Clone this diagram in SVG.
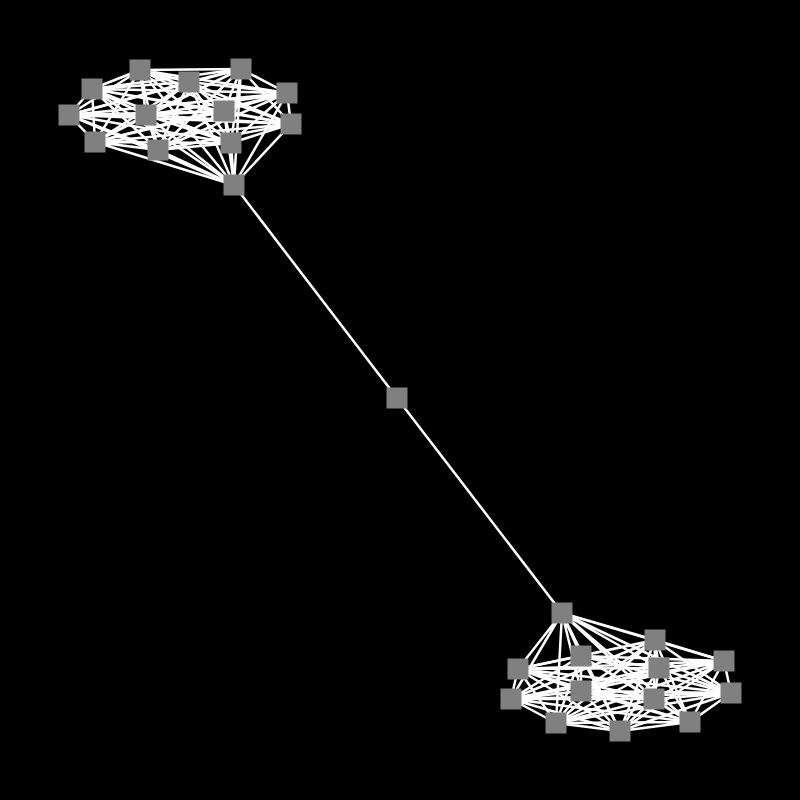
<svg xmlns="http://www.w3.org/2000/svg" width="800" height="800" viewBox="0 0 800 800">
<style>
.e{stroke:#fff;stroke-width:2.5;fill:none}
.n rect{fill:#808080}
</style>
<rect width="800" height="800" fill="#000"/>
<g id="connectors" class="e">
<path d="M140 70L189 82M140 70L241 69M140 70L92 89M140 70L287 93M140 70L69 115M140 70L146 115M140 70L224 111M140 70L291 124M140 70L95 142M140 70L158 150M140 70L231 143M140 70L234 185"/>
<path d="M189 82L241 69M189 82L92 89M189 82L287 93M189 82L69 115M189 82L146 115M189 82L224 111M189 82L291 124M189 82L95 142M189 82L158 150M189 82L231 143M189 82L234 185"/>
<path d="M241 69L92 89M241 69L287 93M241 69L69 115M241 69L146 115M241 69L224 111M241 69L291 124M241 69L95 142M241 69L158 150M241 69L231 143M241 69L234 185"/>
<path d="M92 89L287 93M92 89L69 115M92 89L146 115M92 89L224 111M92 89L291 124M92 89L95 142M92 89L158 150M92 89L231 143M92 89L234 185"/>
<path d="M287 93L69 115M287 93L146 115M287 93L224 111M287 93L291 124M287 93L95 142M287 93L158 150M287 93L231 143M287 93L234 185"/>
<path d="M69 115L146 115M69 115L224 111M69 115L291 124M69 115L95 142M69 115L158 150M69 115L231 143M69 115L234 185"/>
<path d="M146 115L224 111M146 115L291 124M146 115L95 142M146 115L158 150M146 115L231 143M146 115L234 185"/>
<path d="M224 111L291 124M224 111L95 142M224 111L158 150M224 111L231 143M224 111L234 185"/>
<path d="M291 124L95 142M291 124L158 150M291 124L231 143M291 124L234 185"/>
<path d="M95 142L158 150M95 142L231 143M95 142L234 185"/>
<path d="M158 150L231 143M158 150L234 185M231 143L234 185"/>
<path d="M234 185L397 398M397 398L562 613"/>
<path d="M562 613L655 640M562 613L581 656M562 613L518 669M562 613L659 668M562 613L724 661M562 613L511 699M562 613L581 691M562 613L654 699M562 613L731 693M562 613L556 723M562 613L620 731M562 613L690 722"/>
<path d="M655 640L581 656M655 640L518 669M655 640L659 668M655 640L724 661M655 640L511 699M655 640L581 691M655 640L654 699M655 640L731 693M655 640L556 723M655 640L620 731M655 640L690 722"/>
<path d="M581 656L518 669M581 656L659 668M581 656L724 661M581 656L511 699M581 656L581 691M581 656L654 699M581 656L731 693M581 656L556 723M581 656L620 731M581 656L690 722"/>
<path d="M518 669L659 668M518 669L724 661M518 669L511 699M518 669L581 691M518 669L654 699M518 669L731 693M518 669L556 723M518 669L620 731M518 669L690 722"/>
<path d="M659 668L724 661M659 668L511 699M659 668L581 691M659 668L654 699M659 668L731 693M659 668L556 723M659 668L620 731M659 668L690 722"/>
<path d="M724 661L511 699M724 661L581 691M724 661L654 699M724 661L731 693M724 661L556 723M724 661L620 731M724 661L690 722"/>
<path d="M511 699L581 691M511 699L654 699M511 699L731 693M511 699L556 723M511 699L620 731M511 699L690 722"/>
<path d="M581 691L654 699M581 691L731 693M581 691L556 723M581 691L620 731M581 691L690 722"/>
<path d="M654 699L731 693M654 699L556 723M654 699L620 731M654 699L690 722"/>
<path d="M731 693L556 723M731 693L620 731M731 693L690 722"/>
<path d="M556 723L620 731M556 723L690 722M620 731L690 722"/>
</g>
<g class="n">
<g id="t0"><rect x="129.5" y="59.5" width="21" height="21"/></g>
<g id="t1"><rect x="178.5" y="71.5" width="21" height="21"/></g>
<g id="t2"><rect x="230.5" y="58.5" width="21" height="21"/></g>
<g id="t3"><rect x="81.5" y="78.5" width="21" height="21"/></g>
<g id="t4"><rect x="276.5" y="82.5" width="21" height="21"/></g>
<g id="t5"><rect x="58.5" y="104.5" width="21" height="21"/></g>
<g id="t6"><rect x="135.5" y="104.5" width="21" height="21"/></g>
<g id="t7"><rect x="213.5" y="100.5" width="21" height="21"/></g>
<g id="t8"><rect x="280.5" y="113.5" width="21" height="21"/></g>
<g id="t9"><rect x="84.5" y="131.5" width="21" height="21"/></g>
<g id="t10"><rect x="147.5" y="139.5" width="21" height="21"/></g>
<g id="t11"><rect x="220.5" y="132.5" width="21" height="21"/></g>
<g id="t12"><rect x="223.5" y="174.5" width="21" height="21"/></g>
<g id="mid"><rect x="386.5" y="387.5" width="21" height="21"/></g>
<g id="b0"><rect x="551.5" y="602.5" width="21" height="21"/></g>
<g id="b1"><rect x="644.5" y="629.5" width="21" height="21"/></g>
<g id="b2"><rect x="570.5" y="645.5" width="21" height="21"/></g>
<g id="b3"><rect x="507.5" y="658.5" width="21" height="21"/></g>
<g id="b4"><rect x="648.5" y="657.5" width="21" height="21"/></g>
<g id="b5"><rect x="713.5" y="650.5" width="21" height="21"/></g>
<g id="b6"><rect x="500.5" y="688.5" width="21" height="21"/></g>
<g id="b7"><rect x="570.5" y="680.5" width="21" height="21"/></g>
<g id="b8"><rect x="643.5" y="688.5" width="21" height="21"/></g>
<g id="b9"><rect x="720.5" y="682.5" width="21" height="21"/></g>
<g id="b10"><rect x="545.5" y="712.5" width="21" height="21"/></g>
<g id="b11"><rect x="609.5" y="720.5" width="21" height="21"/></g>
<g id="b12"><rect x="679.5" y="711.5" width="21" height="21"/></g>
</g>
</svg>
